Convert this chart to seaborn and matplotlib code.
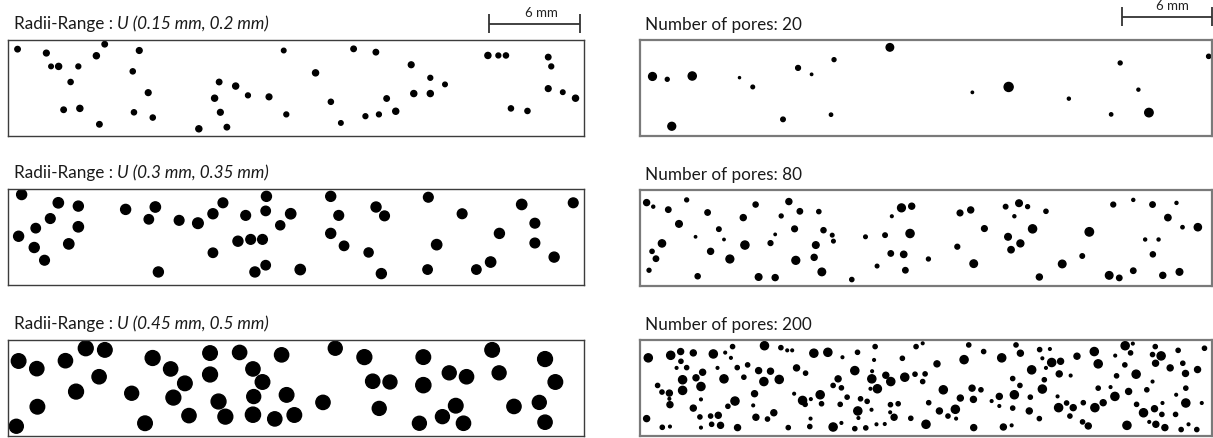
import numpy as np
import pandas as pd
import matplotlib
matplotlib.use("Agg")
import matplotlib.pyplot as plt
import seaborn as sns

# Specimen cross-section shown in every panel (mm)
WIDTH_MM = 38.0
HEIGHT_MM = 6.4
SCALE_BAR_MM = 6

# ---------------------------------------------------------------------------
# Left column: 50 pores each, radii drawn from U(a, b)
# ---------------------------------------------------------------------------
radii_ranges = [(0.15, 0.2), (0.3, 0.35), (0.45, 0.5)]

x_r015 = [0.63, 2.53, 2.84, 3.34, 4.64, 5.83, 6.38, 8.66, 8.23, 4.13,
          9.25, 3.67, 4.74, 8.31, 9.55, 6.03, 12.59, 14.44, 14.01, 13.63,
          13.93, 15.02, 15.83, 17.22, 18.19, 18.36, 20.29, 21.30, 21.96, 22.80,
          24.27, 23.58, 24.47, 24.98, 25.58, 26.60, 26.77, 27.86, 27.86, 28.83,
          31.66, 32.35, 32.85, 35.64, 35.84, 35.64, 36.60, 37.44, 33.18, 34.27]
y_r015 = [0.61, 0.87, 1.76, 1.76, 1.76, 1.05, 0.28, 0.70, 2.09, 2.80,
          3.51, 4.65, 4.56, 4.82, 5.17, 5.62, 5.92, 5.81, 4.82, 3.88,
          2.80, 3.07, 3.69, 3.79, 0.70, 4.96, 2.19, 4.12, 5.53, 0.59,
          0.81, 5.08, 4.96, 3.90, 4.75, 1.65, 3.57, 2.52, 3.57, 2.96,
          1.03, 1.03, 1.03, 1.14, 1.76, 3.24, 3.48, 3.88, 4.56, 4.73]
r_r015 = [0.18, 0.19, 0.15, 0.20, 0.16, 0.20, 0.18, 0.19, 0.17, 0.17,
          0.19, 0.18, 0.20, 0.17, 0.17, 0.18, 0.20, 0.18, 0.19, 0.20,
          0.18, 0.20, 0.16, 0.19, 0.15, 0.16, 0.20, 0.17, 0.15, 0.18,
          0.18, 0.16, 0.16, 0.18, 0.20, 0.19, 0.20, 0.16, 0.20, 0.15,
          0.20, 0.16, 0.17, 0.18, 0.16, 0.19, 0.15, 0.20, 0.17, 0.17]

x_r030 = [0.90, 3.32, 4.64, 2.79, 1.83, 4.64, 0.70, 1.73, 4.01, 2.41,
          7.76, 9.72, 9.29, 11.29, 12.53, 13.52, 14.18, 9.92, 13.52, 15.68,
          17.05, 17.00, 18.65, 17.96, 15.17, 16.01, 16.79, 16.29, 17.00, 19.28,
          21.29, 21.82, 21.29, 22.17, 24.28, 24.84, 23.79, 24.63, 27.73, 29.96,
          28.28, 27.68, 30.90, 31.84, 32.42, 33.89, 34.76, 34.76, 36.03, 37.29]
y_r030 = [0.37, 0.92, 1.14, 1.97, 2.61, 2.52, 3.15, 3.90, 3.66, 4.75,
          1.36, 1.20, 2.02, 2.09, 2.28, 1.65, 0.92, 5.53, 4.25, 1.76,
          0.49, 1.46, 1.65, 2.42, 3.48, 3.36, 3.36, 5.53, 5.08, 5.37,
          0.49, 1.76, 2.96, 3.79, 1.20, 1.79, 4.23, 5.64, 0.55, 1.65,
          3.71, 5.37, 5.37, 4.87, 2.96, 1.03, 2.28, 3.60, 4.54, 0.92]
r_r030 = [0.33, 0.34, 0.33, 0.32, 0.31, 0.34, 0.33, 0.33, 0.34, 0.32,
          0.33, 0.34, 0.31, 0.32, 0.35, 0.33, 0.32, 0.33, 0.31, 0.32,
          0.33, 0.31, 0.34, 0.30, 0.33, 0.32, 0.32, 0.33, 0.31, 0.34,
          0.33, 0.32, 0.33, 0.31, 0.33, 0.32, 0.30, 0.33, 0.32, 0.32,
          0.34, 0.31, 0.31, 0.34, 0.33, 0.34, 0.32, 0.32, 0.33, 0.32]

x_r045 = [0.70, 1.90, 3.79, 5.13, 6.39, 6.01, 4.49, 1.94, 0.55, 9.54,
          10.73, 11.67, 8.16, 10.91, 11.94, 9.04, 13.33, 15.28, 13.33, 16.16,
          16.79, 18.05, 13.89, 16.21, 18.38, 14.34, 16.16, 17.60, 18.89, 20.78,
          21.59, 23.51, 24.06, 25.20, 24.49, 27.40, 27.40, 29.11, 30.25, 29.54,
          28.66, 30.05, 27.14, 31.94, 32.40, 35.43, 36.11, 33.38, 35.05, 35.43]
y_r045 = [1.40, 1.91, 1.38, 0.55, 0.66, 2.45, 3.44, 4.45, 5.75, 1.20,
          1.93, 2.89, 3.55, 3.84, 5.04, 5.55, 0.87, 0.83, 2.30, 1.93,
          2.80, 0.99, 4.10, 3.77, 3.66, 5.11, 4.98, 5.26, 5.00, 4.16,
          0.55, 1.14, 2.75, 2.80, 4.56, 1.14, 3.01, 2.19, 2.45, 4.38,
          5.11, 5.55, 5.55, 0.66, 2.19, 1.27, 2.80, 4.43, 4.16, 5.48]
r_r045 = [0.48, 0.47, 0.47, 0.49, 0.48, 0.47, 0.49, 0.48, 0.46, 0.49,
          0.47, 0.48, 0.46, 0.49, 0.47, 0.48, 0.48, 0.47, 0.49, 0.47,
          0.48, 0.47, 0.49, 0.46, 0.48, 0.49, 0.50, 0.47, 0.48, 0.47,
          0.46, 0.49, 0.47, 0.46, 0.46, 0.48, 0.50, 0.46, 0.47, 0.48,
          0.46, 0.47, 0.46, 0.48, 0.46, 0.49, 0.48, 0.47, 0.46, 0.47]

# ---------------------------------------------------------------------------
# Right column: 20, 80 and 200 pores of mixed radii
# ---------------------------------------------------------------------------
x_n20 = [0.83, 1.81, 3.47, 2.11, 6.61, 7.49, 10.50, 11.40, 12.89, 9.50,
         12.69, 16.60, 22.08, 24.49, 28.49, 31.90, 33.11, 31.30, 33.81, 37.78]
y_n20 = [2.43, 2.62, 2.40, 5.75, 2.51, 3.13, 1.86, 2.29, 1.31, 5.29,
         4.98, 0.49, 3.49, 3.13, 3.91, 1.53, 3.31, 4.96, 4.84, 1.09]
r_n20 = [0.26, 0.13, 0.27, 0.26, 0.07, 0.12, 0.16, 0.08, 0.13, 0.15,
         0.11, 0.25, 0.08, 0.30, 0.10, 0.13, 0.10, 0.11, 0.28, 0.14]

x_n80 = [0.44, 0.88, 1.88, 3.10, 4.49, 2.59, 5.24, 3.69, 5.58, 1.46,
         0.80, 1.06, 4.69, 5.97, 0.60, 3.83, 7.68, 6.86, 6.97, 8.98,
         8.67, 9.89, 9.38, 10.62, 11.88, 10.27, 12.19, 12.77, 12.85, 11.68,
         11.57, 10.35, 12.08, 7.88, 8.98, 14.07, 14.98, 15.75, 16.28, 16.73,
         17.37, 18.05, 17.94, 16.66, 17.52, 17.63, 21.26, 21.97, 24.29, 25.18,
         25.75, 24.87, 26.97, 22.88, 21.08, 24.45, 25.27, 24.65, 26.08, 19.16,
         22.17, 26.53, 28.05, 29.38, 29.85, 31.44, 32.77, 34.05, 35.64, 35.07,
         36.04, 37.06, 33.56, 34.45, 34.07, 31.17, 31.84, 32.77, 34.73, 35.84]
y_n80 = [0.84, 1.11, 1.31, 0.66, 1.50, 2.26, 2.61, 3.12, 3.30, 3.56,
         4.09, 4.58, 4.09, 4.60, 5.35, 5.75, 0.97, 1.84, 3.67, 2.96,
         3.54, 0.77, 1.73, 1.42, 1.44, 2.59, 2.68, 3.01, 3.41, 3.67,
         4.49, 4.69, 5.46, 5.80, 5.84, 5.97, 3.12, 5.07, 3.01, 1.75,
         1.19, 1.08, 2.90, 4.23, 4.29, 5.35, 1.53, 1.33, 1.11, 0.88,
         1.11, 1.75, 1.42, 2.57, 3.78, 3.12, 3.56, 3.98, 2.59, 4.60,
         4.91, 5.80, 4.93, 4.40, 2.79, 0.97, 0.66, 0.97, 0.86, 1.84,
         2.48, 2.48, 3.30, 3.30, 4.29, 5.69, 5.86, 5.38, 5.69, 5.46]
r_n80 = [0.20, 0.10, 0.18, 0.13, 0.18, 0.22, 0.15, 0.08, 0.08, 0.24,
         0.14, 0.18, 0.20, 0.26, 0.13, 0.17, 0.17, 0.20, 0.27, 0.08,
         0.16, 0.20, 0.13, 0.18, 0.14, 0.19, 0.17, 0.12, 0.12, 0.22,
         0.20, 0.26, 0.25, 0.22, 0.20, 0.14, 0.12, 0.12, 0.15, 0.09,
         0.26, 0.20, 0.27, 0.18, 0.21, 0.18, 0.19, 0.20, 0.15, 0.22,
         0.13, 0.10, 0.14, 0.19, 0.16, 0.22, 0.23, 0.21, 0.27, 0.13,
         0.25, 0.20, 0.25, 0.15, 0.28, 0.16, 0.10, 0.18, 0.10, 0.21,
         0.11, 0.24, 0.10, 0.10, 0.17, 0.25, 0.18, 0.18, 0.20, 0.22]

x_n200 = [0.55, 2.04, 2.70, 2.72, 3.54, 4.87, 5.66, 6.15, 6.04, 8.27,
          9.36, 9.78, 10.11, 11.55, 12.48, 13.45, 14.45, 15.62, 15.55, 17.43,
          18.34, 2.43, 3.10, 4.16, 5.15, 6.46, 7.15, 7.88, 8.67, 10.40,
          11.00, 14.27, 15.42, 16.33, 17.59, 18.27, 2.83, 3.72, 5.58, 6.90,
          8.23, 9.25, 13.16, 15.40, 16.66, 1.17, 1.46, 1.95, 2.83, 4.05,
          7.61, 10.24, 12.83, 13.38, 15.31, 15.77, 11.97, 1.95, 4.05, 6.31,
          10.80, 11.35, 12.06, 13.76, 14.65, 15.09, 1.99, 3.54, 5.84, 7.52,
          8.89, 10.97, 13.30, 16.64, 17.15, 14.47, 15.38, 0.44, 3.98, 4.69,
          5.20, 7.70, 8.47, 11.33, 14.51, 16.62, 16.88, 17.99, 1.48, 1.99,
          4.05, 4.76, 5.35, 6.48, 9.85, 11.28, 12.83, 13.38, 14.27, 15.00,
          15.71, 16.26,
          18.78, 21.84, 22.83, 24.98, 25.27, 26.55, 27.23, 29.03, 30.18, 32.23,
          32.74, 32.59, 31.57, 34.23, 34.05, 34.62, 35.75, 37.50, 19.73, 21.53,
          24.03, 26.73, 27.35, 27.94, 26.97, 26.02, 27.85, 28.61, 30.44, 32.21,
          34.25, 35.22, 36.06, 36.24, 37.04, 18.94, 18.78, 24.76, 26.86, 25.24,
          31.66, 32.96, 34.05, 36.26, 20.15, 22.06, 22.65, 26.73, 30.44, 31.26,
          32.46, 33.67, 21.28, 22.15, 23.36, 23.87, 24.87, 25.93, 27.74, 31.55,
          35.62, 19.18, 23.87, 24.76, 27.81, 28.34, 28.78, 29.45, 30.22, 30.77,
          32.99, 34.71, 36.26, 37.32, 19.89, 20.95, 25.86, 20.46, 21.00, 26.53,
          28.56, 33.45, 34.18, 34.67, 35.58, 19.00, 22.17, 24.14, 24.69, 29.40,
          29.78, 32.35, 33.83, 34.27, 34.87, 35.95, 36.44, 36.99]
y_n200 = [1.19, 1.02, 0.77, 1.42, 0.86, 0.93, 0.84, 0.44, 1.19, 0.38,
          0.51, 0.69, 0.69, 0.88, 0.82, 1.15, 0.82, 0.44, 1.33, 1.22,
          0.44, 1.86, 1.84, 2.15, 1.86, 1.84, 1.66, 2.04, 2.08, 1.86,
          2.21, 2.04, 2.08, 2.35, 2.48, 2.28, 2.65, 2.52, 2.59, 2.48,
          2.77, 2.63, 2.59, 2.59, 2.77, 3.03, 3.47, 3.54, 3.36, 3.10,
          3.58, 3.58, 3.03, 3.19, 3.25, 3.25, 3.65, 3.92, 3.96, 4.07,
          4.03, 3.94, 4.25, 3.81, 3.92, 4.09, 4.31, 4.54, 4.42, 4.36,
          4.85, 4.29, 4.29, 4.31, 4.25, 4.73, 4.65, 5.24, 5.13, 5.07,
          5.02, 5.15, 5.27, 5.24, 5.20, 4.82, 5.15, 5.22, 5.82, 5.77,
          5.84, 5.62, 5.69, 5.84, 5.84, 5.77, 5.80, 5.53, 5.91, 5.86,
          5.62, 5.60,
          0.22, 0.33, 0.77, 0.33, 0.88, 0.64, 0.60, 1.08, 0.77, 0.38,
          0.24, 0.86, 1.04, 0.44, 0.97, 1.06, 0.69, 0.55, 1.59, 1.31,
          1.19, 1.22, 1.50, 1.42, 1.86, 1.99, 2.26, 2.37, 1.59, 1.66,
          1.55, 1.86, 1.55, 2.23, 1.97, 2.26, 2.77, 2.57, 2.65, 3.03,
          2.39, 2.28, 2.77, 3.21, 3.32, 3.21, 3.32, 3.27, 3.21, 3.14,
          3.43, 3.32, 3.87, 3.96, 4.07, 3.76, 3.65, 3.81, 3.76, 3.76,
          3.65, 4.18, 4.40, 4.54, 4.51, 4.20, 4.51, 4.18, 4.51, 4.18,
          4.29, 4.20, 4.20, 4.20, 4.73, 4.62, 4.73, 5.07, 5.24, 5.24,
          5.07, 4.85, 4.58, 4.96, 4.96, 5.62, 5.84, 5.80, 5.69, 5.46,
          5.73, 5.69, 5.46, 5.62, 5.84, 5.97, 5.62, 5.97]
r_n200 = [0.27, 0.27, 0.20, 0.14, 0.20, 0.27, 0.09, 0.14, 0.09, 0.27,
          0.14, 0.09, 0.09, 0.27, 0.27, 0.09, 0.14, 0.14, 0.09, 0.14,
          0.14, 0.09, 0.14, 0.20, 0.09, 0.14, 0.14, 0.20, 0.20, 0.20,
          0.14, 0.27, 0.09, 0.20, 0.27, 0.14, 0.27, 0.20, 0.27, 0.14,
          0.27, 0.27, 0.20, 0.27, 0.27, 0.14, 0.14, 0.20, 0.27, 0.27,
          0.20, 0.09, 0.14, 0.14, 0.09, 0.27, 0.27, 0.09, 0.09, 0.27,
          0.27, 0.09, 0.14, 0.14, 0.14, 0.14, 0.20, 0.20, 0.14, 0.09,
          0.20, 0.14, 0.14, 0.14, 0.14, 0.27, 0.09, 0.20, 0.14, 0.14,
          0.20, 0.20, 0.14, 0.09, 0.09, 0.09, 0.20, 0.14, 0.14, 0.09,
          0.09, 0.14, 0.20, 0.20, 0.14, 0.14, 0.27, 0.09, 0.14, 0.14,
          0.09, 0.09,
          0.09, 0.14, 0.14, 0.14, 0.20, 0.14, 0.09, 0.20, 0.27, 0.27,
          0.09, 0.14, 0.09, 0.14, 0.14, 0.27, 0.14, 0.14, 0.20, 0.27,
          0.27, 0.09, 0.27, 0.20, 0.09, 0.27, 0.20, 0.09, 0.27, 0.14,
          0.20, 0.20, 0.14, 0.20, 0.20, 0.14, 0.14, 0.14, 0.14, 0.14,
          0.14, 0.27, 0.09, 0.14, 0.27, 0.20, 0.14, 0.27, 0.14, 0.09,
          0.20, 0.14, 0.20, 0.20, 0.09, 0.20, 0.27, 0.14, 0.09, 0.27,
          0.09, 0.14, 0.09, 0.14, 0.27, 0.14, 0.20, 0.14, 0.27, 0.20,
          0.14, 0.09, 0.27, 0.09, 0.20, 0.27, 0.20, 0.14, 0.09, 0.14,
          0.14, 0.27, 0.20, 0.14, 0.14, 0.27, 0.20, 0.20, 0.09, 0.14,
          0.20, 0.27, 0.09, 0.20, 0.20, 0.14, 0.09, 0.14]

# ---------------------------------------------------------------------------
# Figure
# ---------------------------------------------------------------------------
sns.set_theme(style="white")
plt.rcParams["font.family"] = ["Lato", "DejaVu Sans"]

FIG_W, FIG_H, DPI = 1213, 439, 100
fig = plt.figure(figsize=(FIG_W / DPI, FIG_H / DPI), dpi=DPI)
fig.patch.set_facecolor("white")

TITLE_SIZE = 12.3
BAR_TEXT_SIZE = 9.5
PORE_EDGE_LW = 1.0


def make_axes(left_px, top_px, width_px, height_px, frame_color, frame_lw):
    ax = fig.add_axes([left_px / FIG_W, 1 - (top_px + height_px) / FIG_H,
                       width_px / FIG_W, height_px / FIG_H])
    ax.set_xlim(0, WIDTH_MM)
    ax.set_ylim(HEIGHT_MM, 0)
    ax.set_xticks([])
    ax.set_yticks([])
    for sp in ax.spines.values():
        sp.set_visible(True)
        sp.set_color(frame_color)
        sp.set_linewidth(frame_lw)
    ax.set_facecolor("white")
    return ax


def draw_pores(ax, xs, ys, rs):
    # marker area follows the pore radius through the axes' own mm scale
    p0, p1 = ax.transData.transform([(0, 0), (1, 0)])
    pt_per_mm = abs(p1[0] - p0[0]) * 72 / fig.dpi
    df = pd.DataFrame({"x": xs, "y": ys, "r": rs})
    sizes = ((2 * df["r"] * pt_per_mm) ** 2).to_numpy()
    sns.scatterplot(data=df, x="x", y="y", s=sizes, marker="o",
                    color="black", edgecolor="black", linewidth=PORE_EDGE_LW,
                    legend=False, ax=ax)
    ax.set_xlim(0, WIDTH_MM)
    ax.set_ylim(HEIGHT_MM, 0)
    ax.set_xlabel("")
    ax.set_ylabel("")
    ax.set_xticks([])
    ax.set_yticks([])


def scale_bar(ax, x_right, y_line, y_tick0, y_tick1, y_text, x_text):
    x_left = x_right - SCALE_BAR_MM
    kw = dict(color="#333333", lw=1.3, clip_on=False, solid_capstyle="butt")
    ax.plot([x_left, x_right], [y_line, y_line], **kw)
    ax.plot([x_left, x_left], [y_tick0, y_tick1], **kw)
    ax.plot([x_right, x_right], [y_tick0, y_tick1], **kw)
    ax.text(x_text, y_text, f"{SCALE_BAR_MM} mm", ha="center", va="baseline",
            fontsize=BAR_TEXT_SIZE, color="#222222", clip_on=False)


renderer = fig.canvas.get_renderer()


def text_width(s, **kw):
    t = fig.text(0, 0, s, fontsize=TITLE_SIZE, **kw)
    w = t.get_window_extent(renderer).width
    t.remove()
    return w


def mixed_title(x_px, baseline_px, plain, italic):
    # upright prefix followed by the italic distribution term
    offset = text_width(plain + "U") - text_width("U")
    fig.text(x_px / FIG_W, 1 - baseline_px / FIG_H, plain,
             fontsize=TITLE_SIZE, color="#1a1a1a", va="baseline", ha="left")
    fig.text((x_px + offset) / FIG_W, 1 - baseline_px / FIG_H, italic,
             fontsize=TITLE_SIZE, color="#1a1a1a", va="baseline", ha="left",
             style="italic")


def plain_title(x_px, baseline_px, s):
    fig.text(x_px / FIG_W, 1 - baseline_px / FIG_H, s,
             fontsize=TITLE_SIZE, color="#1a1a1a", va="baseline", ha="left")


LEFT_X, LEFT_W = 8, 576
RIGHT_X, RIGHT_W = 640, 572
BOX_H = 96
left_tops = [41, 190, 341]
right_tops = [41, 191, 341]

left_sets = [(x_r015, y_r015, r_r015), (x_r030, y_r030, r_r030), (x_r045, y_r045, r_r045)]
right_sets = [(x_n20, y_n20, r_n20), (x_n80, y_n80, r_n80), (x_n200, y_n200, r_n200)]

for i, (top, (xs, ys, rs), (a, b)) in enumerate(zip(left_tops, left_sets, radii_ranges)):
    ax = make_axes(LEFT_X, top, LEFT_W, BOX_H, "#3c3c3c", 1.0)
    draw_pores(ax, xs, ys, rs)
    mixed_title(14, top - 12, "Radii-Range : ", f"U ({a:g} mm, {b:g} mm)")
    if i == 0:
        scale_bar(ax, 37.73, -1.06, -1.72, -0.46, -1.62, 35.2)

for i, (top, (xs, ys, rs)) in enumerate(zip(right_tops, right_sets)):
    ax = make_axes(RIGHT_X, top, RIGHT_W, BOX_H, "#7a7a7a", 1.6)
    draw_pores(ax, xs, ys, rs)
    plain_title(645, top - 11, f"Number of pores: {len(xs)}")
    if i == 0:
        scale_bar(ax, 37.99, -1.53, -2.19, -0.93, -2.08, 35.4)

fig.savefig("out.png", dpi=DPI, facecolor="white")
